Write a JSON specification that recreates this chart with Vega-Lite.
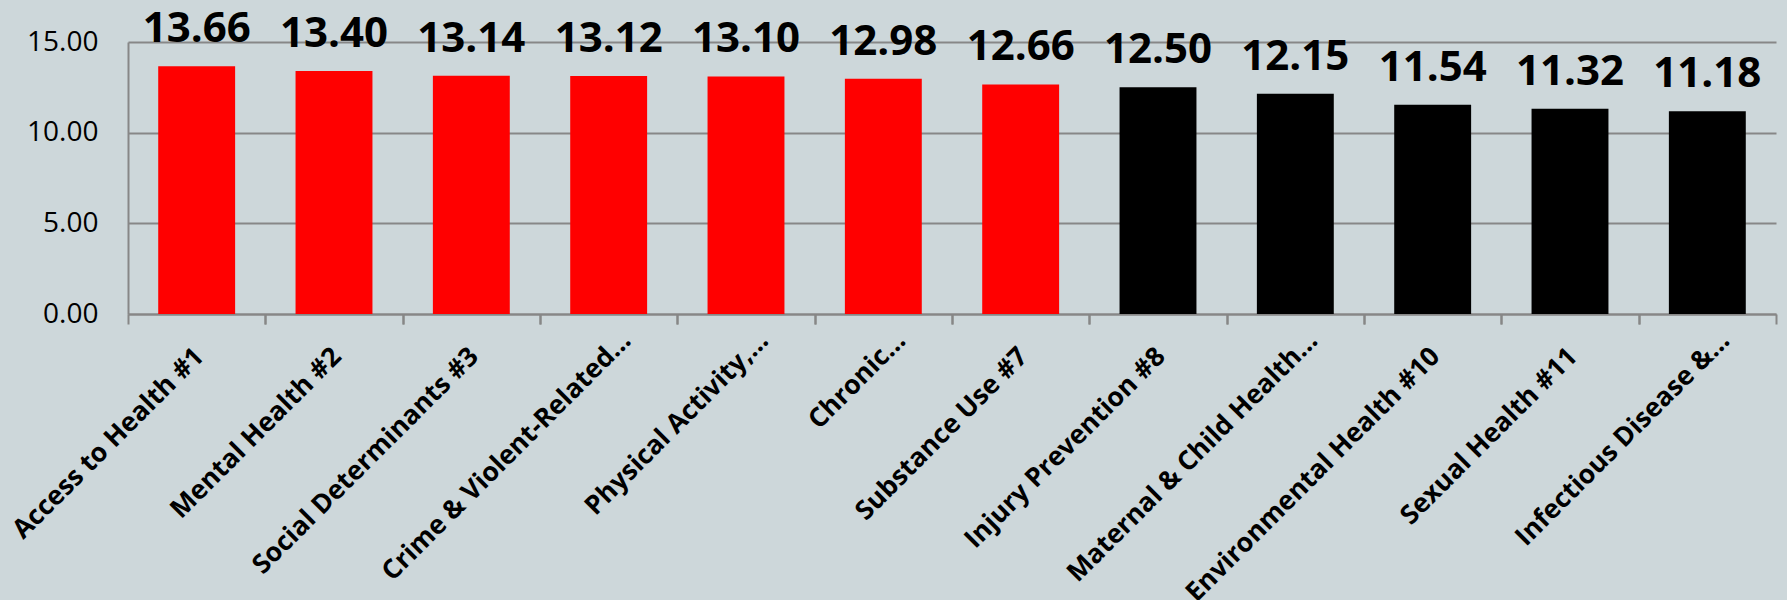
{
  "$schema": "https://vega.github.io/schema/vega-lite/v6.json",
  "width": 1648,
  "height": 272,
  "autosize": {"type": "none"},
  "padding": {"left": 128, "top": 42, "right": 11, "bottom": 286},
  "background": "#CDD7DA",
  "config": {
    "view": {"stroke": null},
    "font": "Open Sans"
  },
  "data": {
    "values": [
      {"topic": "Access to Health #1", "score": 13.66, "group": "Top 7"},
      {"topic": "Mental Health #2", "score": 13.40, "group": "Top 7"},
      {"topic": "Social Determinants #3", "score": 13.14, "group": "Top 7"},
      {"topic": "Crime & Violent-Related…", "score": 13.12, "group": "Top 7"},
      {"topic": "Physical Activity,…", "score": 13.10, "group": "Top 7"},
      {"topic": "Chronic…", "score": 12.98, "group": "Top 7"},
      {"topic": "Substance Use #7", "score": 12.66, "group": "Top 7"},
      {"topic": "Injury Prevention #8", "score": 12.50, "group": "Other"},
      {"topic": "Maternal & Child Health…", "score": 12.15, "group": "Other"},
      {"topic": "Environmental Health #10", "score": 11.54, "group": "Other"},
      {"topic": "Sexual Health #11", "score": 11.32, "group": "Other"},
      {"topic": "Infectious Disease &…", "score": 11.18, "group": "Other"}
    ]
  },
  "resolve": {"axis": {"x": "independent"}},
  "layer": [
    {
      "mark": {"type": "bar"},
      "encoding": {
        "x": {
          "field": "topic", "type": "nominal", "sort": null,
          "scale": {"paddingInner": 0.44, "paddingOuter": 0.22},
          "axis": {
            "orient": "bottom",
            "title": null,
            "labelAngle": -45,
            "labelAlign": "right",
            "labelBaseline": "middle",
            "labelFont": "Open Sans",
            "labelFontSize": 26.5,
            "labelFontWeight": "bold",
            "labelColor": "#000000",
            "labelPadding": {"condition": {"test": "indexof(datum.label, '…') >= 0", "value": 22}, "value": 38},
            "labelOffset": {"condition": {"test": "indexof(datum.label, '…') >= 0", "value": 18}, "value": 3},
            "labelLimit": 0,
            "ticks": false,
            "tickSize": 0,
            "domain": true,
            "domainColor": "#878787",
            "domainWidth": 2,
            "grid": false
          }
        },
        "y": {
          "field": "score", "type": "quantitative",
          "scale": {"domain": [0, 15], "nice": false},
          "axis": {
            "title": null,
            "values": [0, 5, 10, 15],
            "format": ".2f",
            "labelFont": "Open Sans",
            "labelFontSize": 28,
            "labelColor": "#000000",
            "labelPadding": 30,
            "ticks": false,
            "domain": true,
            "domainColor": "#878787",
            "domainWidth": 2,
            "grid": true,
            "gridColor": "#878787",
            "gridWidth": 2
          }
        },
        "color": {
          "field": "group", "type": "nominal",
          "scale": {"domain": ["Top 7", "Other"], "range": ["#FF0000", "#000000"]},
          "legend": null
        }
      }
    },
    {
      "mark": {"type": "text", "fontSize": 42, "fontWeight": "bold", "font": "Open Sans", "baseline": "alphabetic", "dy": -24, "color": "#000000"},
      "encoding": {
        "x": {
          "field": "topic", "type": "nominal", "sort": null,
          "axis": {
            "orient": "bottom",
            "title": null,
            "labels": false,
            "domain": false,
            "grid": false,
            "ticks": true,
            "tickSize": 10,
            "tickWidth": 2,
            "tickColor": "#878787",
            "bandPosition": 0.5,
            "tickOffset": -68.67
          }
        },
        "y": {
          "field": "score", "type": "quantitative",
          "axis": {
            "title": null,
            "values": [0, 5, 10, 15],
            "format": ".2f",
            "labelFont": "Open Sans",
            "labelFontSize": 28,
            "labelColor": "#000000",
            "labelPadding": 30,
            "ticks": false,
            "domain": true,
            "domainColor": "#878787",
            "domainWidth": 2,
            "grid": true,
            "gridColor": "#878787",
            "gridWidth": 2
          }
        },
        "text": {"field": "score", "type": "quantitative", "format": ".2f"}
      }
    },
    {
      "mark": {"type": "bar", "opacity": 0},
      "encoding": {
        "x": {
          "field": "topic", "type": "nominal", "sort": null,
          "axis": {
            "orient": "bottom",
            "title": null,
            "labels": false,
            "domain": false,
            "grid": false,
            "ticks": true,
            "tickSize": 10,
            "tickWidth": 2,
            "tickColor": "#878787",
            "bandPosition": 0.5,
            "tickOffset": 68.67
          }
        },
        "y": {
          "field": "score", "type": "quantitative",
          "axis": {
            "title": null,
            "values": [0, 5, 10, 15],
            "format": ".2f",
            "labelFont": "Open Sans",
            "labelFontSize": 28,
            "labelColor": "#000000",
            "labelPadding": 30,
            "ticks": false,
            "domain": true,
            "domainColor": "#878787",
            "domainWidth": 2,
            "grid": true,
            "gridColor": "#878787",
            "gridWidth": 2
          }
        }
      }
    }
  ]
}
